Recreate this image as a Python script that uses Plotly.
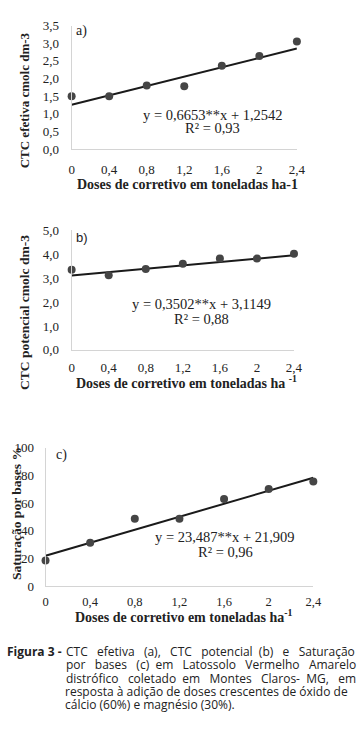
import plotly.graph_objects as go

# ---------------- data ----------------
doses = [0, 0.4, 0.8, 1.2, 1.6, 2.0, 2.4]
x_ticks = [0, 0.4, 0.8, 1.2, 1.6, 2.0, 2.4]
x_ticktext = ["0", "0,4", "0,8", "1,2", "1,6", "2", "2,4"]

ctc_efetiva = [1.50, 1.50, 1.80, 1.78, 2.36, 2.64, 3.05]
ctc_potencial = [3.35, 3.12, 3.38, 3.60, 3.82, 3.82, 4.02]
saturacao = [18.4, 31.2, 48.7, 48.7, 62.9, 70.2, 75.7]

# fitted equations printed on the chart (slope, intercept)
fit_a = (0.6653, 1.2542)
fit_b = (0.3502, 3.1149)
fit_c = (23.487, 21.909)
trend_x = [0, 2.4]

ya_ticks = [0, 0.5, 1.0, 1.5, 2.0, 2.5, 3.0, 3.5]
ya_text = ["0,0", "0,5", "1,0", "1,5", "2,0", "2,5", "3,0", "3,5"]
yb_ticks = [0, 1, 2, 3, 4, 5]
yb_text = ["0,0", "1,0", "2,0", "3,0", "4,0", "5,0"]
yc_ticks = [0, 20, 40, 60, 80, 100]
yc_text = ["0", "20", "40", "60", "80", "100"]

W, H = 361, 736
def px(x): return x / W
def py(y): return 1 - y / H

SERIF = "Liberation Serif, Times New Roman, serif"
MARK = "#454545"
LINE = "#1a1a1a"
AX = "#d4d4d4"
TXT = "#222222"

fig = go.Figure()

panels = [
    (doses, ctc_efetiva, fit_a, "x", "y"),
    (doses, ctc_potencial, fit_b, "x2", "y2"),
    (doses, saturacao, fit_c, "x3", "y3"),
]
for xs, ys, (m, b), xa, ya in panels:
    fig.add_trace(go.Scatter(x=trend_x, y=[b + m * t for t in trend_x], mode="lines",
                             line=dict(color=LINE, width=2), xaxis=xa, yaxis=ya,
                             cliponaxis=False, showlegend=False, hoverinfo="skip"))
    fig.add_trace(go.Scatter(x=xs, y=ys, mode="markers",
                             marker=dict(color=MARK, size=8), xaxis=xa, yaxis=ya,
                             cliponaxis=False, showlegend=False))

def xax(domain, anchor, standoff, fs=13):
    return dict(domain=domain, anchor=anchor, range=[0, 2.4], tickvals=x_ticks,
                ticktext=x_ticktext, showgrid=False, zeroline=False, showline=True,
                linecolor=AX, linewidth=1, ticks="", ticklabelstandoff=standoff,
                tickfont=dict(family=SERIF, size=fs, color=TXT), fixedrange=True)

def yax(domain, anchor, rng, tv, tt, standoff):
    return dict(domain=domain, anchor=anchor, range=rng, tickvals=tv, ticktext=tt,
                showgrid=False, zeroline=False, showline=True, linecolor=AX, linewidth=1,
                ticks="", ticklabelstandoff=standoff,
                tickfont=dict(family=SERIF, size=13, color=TXT), fixedrange=True)

fig.update_layout(
    width=W, height=H, margin=dict(l=0, r=0, t=0, b=0),
    paper_bgcolor="white", plot_bgcolor="white", showlegend=False,
    xaxis=xax([px(71), px(304)], "y", 8),
    yaxis=yax([py(145), py(19)], "x", [0, 3.5], ya_ticks, ya_text, 9),
    xaxis2=xax([px(71), px(301)], "y2", 6),
    yaxis2=yax([py(350), py(228)], "x2", [0, 5], yb_ticks, yb_text, 9),
    xaxis3=xax([px(44), px(321)], "y3", 4, 12.5),
    yaxis3=yax([py(591), py(450)], "x3", [0, 100], yc_ticks, yc_text, 8),
)

ann = []
def text(x, y, s, size, family=SERIF, anchor="center", angle=0, color=TXT):
    ann.append(dict(x=px(x), y=py(y), xref="paper", yref="paper", text=s,
                    showarrow=False, xanchor=anchor, yanchor="middle", textangle=angle,
                    borderpad=0, borderwidth=0,
                    font=dict(family=family, size=size, color=color)))

# axis titles
text(191, 181, "<b>Doses de corretivo em toneladas ha-1</b>", 14)
text(190, 383, "<b>Doses de corretivo em toneladas ha <sup>-1</sup></b>", 14)
text(187, 622, "<b>Doses de corretivo em toneladas ha<sup>-1</sup></b>", 14)
text(22, 95, "<b>CTC efetiva cmolc dm-3</b>", 13, angle=-90)
text(22, 312, "<b>CTC potencial cmolc dm-3</b>", 13.5, angle=-90)
text(14, 517, "<b>Saturação por bases %</b>", 13.5, angle=-90)

# panel labels
text(76, 25, "a)", 14, anchor="left")
text(76, 235, "b)", 13, family="Liberation Sans, Arial, sans-serif", anchor="left")
text(55, 457, "c)", 14, anchor="left")

# equations
text(217, 110, "y = 0,6653**x + 1,2542", 14.5)
text(217, 124, "R² = 0,93", 14.5)
text(205, 303, "y = 0,3502**x + 3,1149", 14.5)
text(205, 318, "R² = 0,88", 14.5)
text(230, 541, "y = 23,487**x + 21,909", 14.5)
text(230, 556, "R² = 0,96", 14.5)

# caption
CAP = "Open Sans, Noto Sans, sans-serif"
CS = 12.0
WID = {' ': .26, 'a': .556, 'b': .613, 'c': .482, 'd': .613, 'e': .561, 'f': .336, 'g': .544,
       'h': .614, 'i': .258, 'l': .258, 'm': .932, 'n': .614, 'o': .603, 'p': .613, 'r': .408,
       's': .479, 't': .353, 'u': .614, 'v': .5, 'x': .523, 'A': .633, 'C': .631, 'G': .721,
       'L': .522, 'M': .904, 'S': .549, 'T': .553, 'V': .605, '(': .296, ')': .296, ',': .246,
       '.': .268, '-': .322, '%': .824, 'à': .556, 'ã': .556, 'á': .556, 'ç': .482, 'ó': .603,
       'é': .561}
SP = 0.26 * CS
def wlen(w):
    return sum(WID.get(ch, .57) for ch in w) * CS

def justify_string(line, width=290):
    # approximate full justification with non-breaking spaces
    words = line.split(" ")
    total = sum(wlen(w) for w in words)
    gap = (width - total) / (len(words) - 1)
    out, acc, used = words[0], 0.0, 0
    for w in words[1:]:
        acc += gap
        n = max(1, round(acc / SP) - used)
        used += n
        out += "\u00a0" * n + w
    return out

cap_lines = [
    "CTC efetiva (a), CTC potencial (b) e Saturação",
    "por bases (c) em Latossolo Vermelho Amarelo",
    "distrófico coletado em Montes Claros- MG, em",
]
cy = [658, 671.6, 685.2, 698.8, 712.4]
text(61, cy[0], "<b>Figura 3 -</b>", CS, family=CAP, anchor="right")
for ln, y in zip(cap_lines, cy):
    text(65, y, justify_string(ln), CS, family=CAP, anchor="left")
text(64, cy[3], "resposta à adição de doses crescentes de óxido de", CS, family=CAP, anchor="left")
text(64, cy[4], "cálcio (60%) e magnésio (30%).", CS, family=CAP, anchor="left")

fig.update_layout(annotations=ann)
fig.write_html("out.html", config={"displayModeBar": False},
               post_script="document.body.style.margin='0';document.body.style.overflow='hidden';")
